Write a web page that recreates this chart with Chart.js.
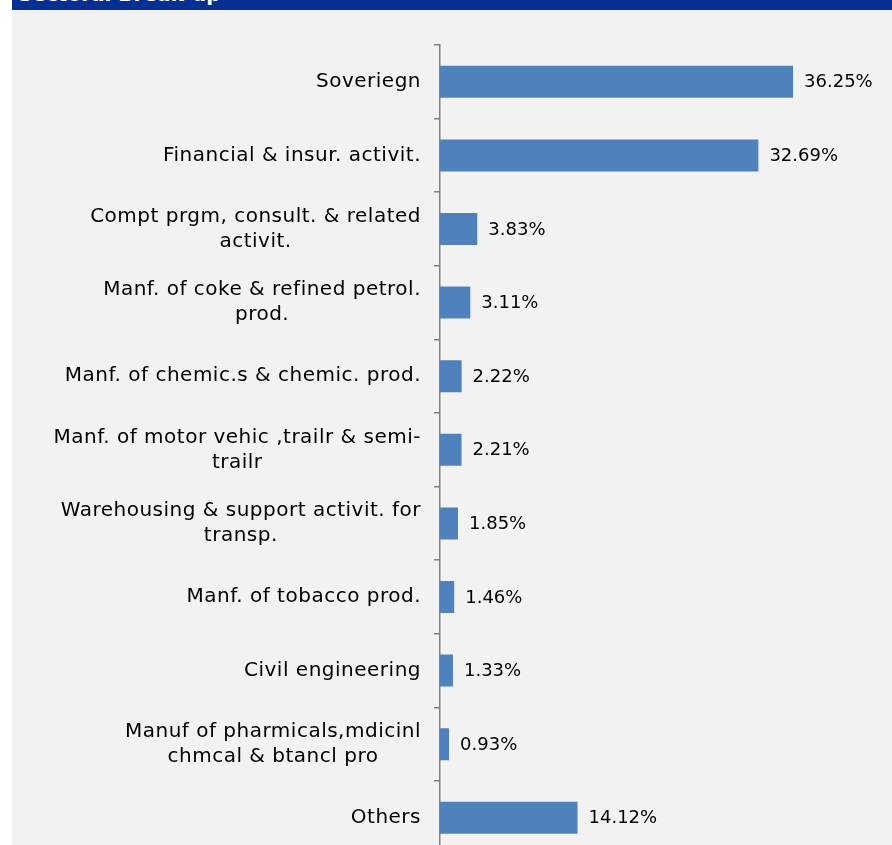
<!DOCTYPE html>
<html>
<head>
<meta charset="utf-8">
<script src="https://cdn.jsdelivr.net/npm/chart.js@4/dist/chart.umd.min.js"></script>
<style>
  html, body { margin: 0; padding: 0; background: #ffffff; overflow: hidden; width: 892px; height: 845px; }
  #panel { position: absolute; left: 12px; top: 0; width: 880px; height: 845px; background: #f2f2f2; overflow: hidden; }
  #header { position: absolute; left: 0; top: 0; width: 880px; height: 10px; background: #052f92; overflow: hidden; }
  #header span { position: absolute; left: 6px; top: -18px; color: #ffffff; font: bold 20px "DejaVu Sans", sans-serif; white-space: nowrap; }
  #wrap { position: absolute; left: 0; top: 0; width: 880px; height: 870px; }
</style>
</head>
<body>
<div id="panel">
  <div id="header"><span>Sectoral Break-up</span></div>
  <div id="wrap"><canvas id="c" width="880" height="870"></canvas></div>
</div>
<script>
const categories = [
  ["Soveriegn"],
  ["Financial & insur. activit."],
  ["Compt prgm, consult. & related", "activit."],
  ["Manf. of coke & refined petrol.", "prod."],
  ["Manf. of chemic.s & chemic. prod."],
  ["Manf. of motor vehic ,trailr & semi-", "trailr"],
  ["Warehousing & support activit. for", "transp."],
  ["Manf. of tobacco prod."],
  ["Civil engineering"],
  ["Manuf of pharmicals,mdicinl", "chmcal & btancl pro"],
  ["Others"]
];
const values = [36.25, 32.69, 3.83, 3.11, 2.22, 2.21, 1.85, 1.46, 1.33, 0.93, 14.12];
const valueLabels = ["36.25%", "32.69%", "3.83%", "3.11%", "2.22%", "2.21%", "1.85%", "1.46%", "1.33%", "0.93%", "14.12%"];

const FONT = '"DejaVu Sans", sans-serif';
const LABEL_SIZE = 20;
const VALUE_SIZE = 18;

const labelPlugin = {
  id: 'customLabels',
  afterDraw(chart) {
    const ctx = chart.ctx;
    const y = chart.scales.y;
    const meta = chart.getDatasetMeta(0);
    ctx.save();
    ctx.fillStyle = '#000000';
    ctx.textBaseline = 'middle';
    ctx.font = LABEL_SIZE + 'px ' + FONT;
    ctx.letterSpacing = '0.5px';
    const rightEdge = chart.chartArea.left - 19;
    const lh = 25;
    categories.forEach((lines, i) => {
      const cy = y.getPixelForValue(i);
      const maxW = Math.max(...lines.map(l => ctx.measureText(l).width));
      const cx = rightEdge - maxW / 2;
      ctx.textAlign = 'center';
      lines.forEach((l, j) => {
        const ly = cy + (j - (lines.length - 1) / 2) * lh;
        ctx.fillText(l, cx, ly);
      });
    });
    ctx.font = VALUE_SIZE + 'px ' + FONT;
    ctx.letterSpacing = '0px';
    ctx.textAlign = 'left';
    meta.data.forEach((bar, i) => {
      ctx.fillText(valueLabels[i], bar.x + 11, bar.y + 1);
    });
    ctx.restore();
  }
};

new Chart(document.getElementById('c'), {
  type: 'bar',
  data: {
    labels: categories,
    datasets: [{
      data: values,
      backgroundColor: '#4f81bd',
      borderWidth: 0,
      categoryPercentage: 1,
      barPercentage: 0.435
    }]
  },
  plugins: [labelPlugin],
  options: {
    indexAxis: 'y',
    responsive: false,
    animation: false,
    layout: { padding: { left: 422, right: 13.7, top: 45, bottom: 15.4 } },
    plugins: { legend: { display: false }, tooltip: { enabled: false } },
    scales: {
      x: { display: false, min: 0, max: 45 },
      y: {
        display: true,
        offset: true,
        ticks: { display: false },
        grid: { display: true, drawOnChartArea: false, drawTicks: true, tickLength: 6, offset: true, color: '#808080', lineWidth: 1.5 },
        border: { display: true, color: '#808080', width: 1.5 },
        afterFit(s) { s.width = 6; }
      }
    }
  }
});
</script>
</body>
</html>
